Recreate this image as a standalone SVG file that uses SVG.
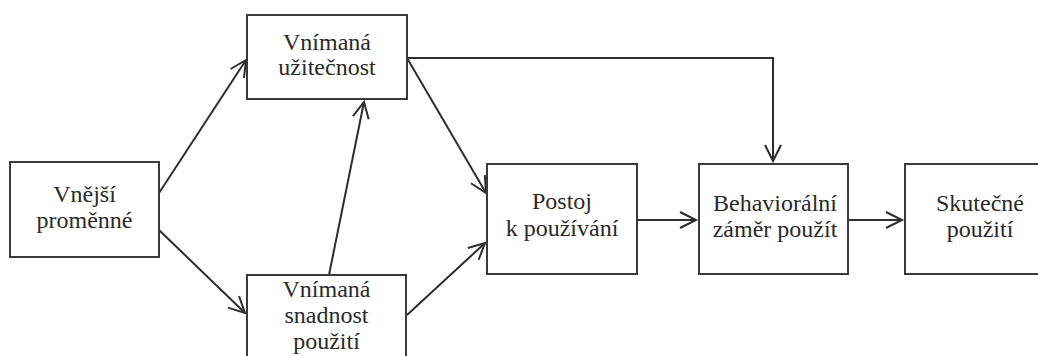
<svg xmlns="http://www.w3.org/2000/svg" width="1038" height="356" viewBox="0 0 1038 356">
  <style>
    .box { fill: #ffffff; stroke: #3a3a3a; stroke-width: 2; }
    .lbl { font-size: 24px; fill: #2a2a2a; text-anchor: middle; }
    .edge { fill: none; stroke: #2e2e2e; stroke-width: 2; }
  </style>
  <defs>
    <marker id="arrow" markerUnits="userSpaceOnUse" markerWidth="20" markerHeight="20" viewBox="-17 -10 20 20" refX="0" refY="0" orient="auto">
      <path d="M-16,-8 L0,0 L-16,8" fill="none" stroke="#2e2e2e" stroke-width="2"/>
    </marker>
  </defs>
  <rect width="1038" height="356" fill="#ffffff"/>

  <!-- connectors -->
  <g id="connectors">
    <line class="edge" x1="159" y1="193" x2="246" y2="60" marker-end="url(#arrow)"/>
    <line class="edge" x1="159" y1="230" x2="245" y2="313" marker-end="url(#arrow)"/>
    <line class="edge" x1="329" y1="275" x2="364" y2="102" marker-end="url(#arrow)"/>
    <line class="edge" x1="407" y1="58" x2="486" y2="193" marker-end="url(#arrow)"/>
    <line class="edge" x1="407" y1="315" x2="485" y2="243" marker-end="url(#arrow)"/>
    <polyline class="edge" points="407,58 773,58 773,161" marker-end="url(#arrow)"/>
    <line class="edge" x1="637" y1="220" x2="696" y2="220" marker-end="url(#arrow)"/>
    <line class="edge" x1="848" y1="220" x2="902" y2="220" marker-end="url(#arrow)"/>
  </g>

  <!-- nodes -->
  <g font-family="'Liberation Serif', 'DejaVu Serif', serif">
    <g id="vnejsi-promenne">
      <rect class="box" x="10" y="162" width="149" height="95"/>
      <text class="lbl" x="84.5" y="202">Vnější</text>
      <text class="lbl" x="84.5" y="228">proměnné</text>
    </g>
    <g id="vnimana-uzitecnost">
      <rect class="box" x="247" y="15" width="160" height="84"/>
      <text class="lbl" x="327" y="50">Vnímaná</text>
      <text class="lbl" x="327" y="75">užitečnost</text>
    </g>
    <g id="vnimana-snadnost">
      <rect class="box" x="247" y="275" width="159" height="100"/>
      <text class="lbl" x="326.5" y="297">Vnímaná</text>
      <text class="lbl" x="326.5" y="323">snadnost</text>
      <text class="lbl" x="326.5" y="349">použití</text>
    </g>
    <g id="postoj">
      <rect class="box" x="487" y="164" width="150" height="110"/>
      <text class="lbl" x="562" y="209">Postoj</text>
      <text class="lbl" x="562" y="236">k používání</text>
    </g>
    <g id="behavioralni-zamer">
      <rect class="box" x="699" y="164" width="149" height="110"/>
      <text class="lbl" x="775" y="211">Behaviorální</text>
      <text class="lbl" x="775" y="237">záměr použít</text>
    </g>
    <g id="skutecne-pouziti">
      <rect class="box" x="905" y="164" width="150" height="110"/>
      <text class="lbl" x="980" y="211">Skutečné</text>
      <text class="lbl" x="980" y="237">použití</text>
    </g>
  </g>
</svg>
